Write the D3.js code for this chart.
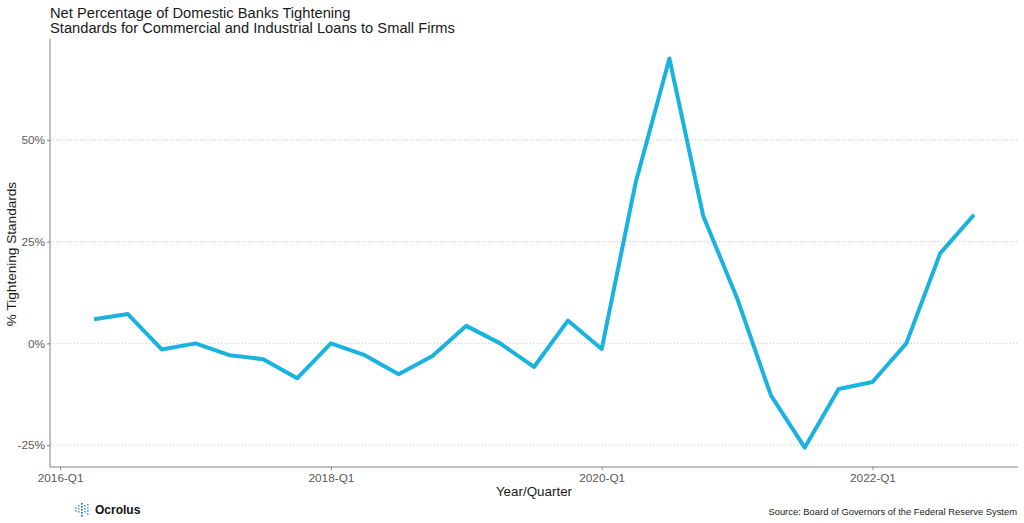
<!DOCTYPE html>
<html>
<head>
<meta charset="utf-8">
<script src="https://cdn.jsdelivr.net/npm/d3@7"></script>
<style>
  body { margin: 0; background: #fff; }
  text { font-family: 'Liberation Sans', Arial, sans-serif; }
</style>
</head>
<body>
<div id="chart"></div>
<script>
// Data
const quarters = [
  '2016-Q2', '2016-Q3', '2016-Q4',
  '2017-Q1', '2017-Q2', '2017-Q3', '2017-Q4',
  '2018-Q1', '2018-Q2', '2018-Q3', '2018-Q4',
  '2019-Q1', '2019-Q2', '2019-Q3', '2019-Q4',
  '2020-Q1', '2020-Q2', '2020-Q3', '2020-Q4',
  '2021-Q1', '2021-Q2', '2021-Q3', '2021-Q4',
  '2022-Q1', '2022-Q2', '2022-Q3', '2022-Q4',
];
const tightening = [
  5.9, 7.2, -1.5,
  0, -2.9, -3.9, -8.6,
  0, -2.9, -7.6, -3.1,
  4.3, 0, -5.8, 5.6,
  -1.4, 39.4, 70, 31.3,
  11.1, -12.8, -25.6, -11.2,
  -9.5, 0, 22.1, 31.6,
];
const xTickLabels = ['2016-Q1', '2018-Q1', '2020-Q1', '2022-Q1'];
const yTickValues = [-25, 0, 25, 50];

// quarter index counted from 2016-Q1
const qIndex = (q) => (+q.slice(0, 4) - 2016) * 4 + (+q.slice(6) - 1);

const dataset = quarters.map((q, i) => ({ q: qIndex(q), v: tightening[i] }));

// Dimensions
const dimensions = {
  width: 1024,
  height: 523,
  left: 50,
  right: 1018,
  top: 39,
  bottom: 467,
};

const svg = d3
  .select('#chart')
  .append('svg')
  .attr('width', dimensions.width)
  .attr('height', dimensions.height);

// Scales
const xExtent = d3.extent(dataset, (d) => d.q);
const xPad = (xExtent[1] - xExtent[0]) * 0.05;
const xScale = d3
  .scaleLinear()
  .domain([xExtent[0] - xPad, xExtent[1] + xPad])
  .range([dimensions.left, dimensions.right]);

const yExtent = d3.extent(dataset, (d) => d.v);
const yPad = (yExtent[1] - yExtent[0]) * 0.05;
const yScale = d3
  .scaleLinear()
  .domain([yExtent[0] - yPad, yExtent[1] + yPad])
  .range([dimensions.bottom, dimensions.top]);

// Gridlines
svg
  .append('g')
  .selectAll('line')
  .data(yTickValues)
  .join('line')
  .attr('x1', dimensions.left)
  .attr('x2', dimensions.right)
  .attr('y1', (d) => yScale(d))
  .attr('y2', (d) => yScale(d))
  .attr('stroke', '#c8c8c8')
  .attr('stroke-width', 1)
  .attr('stroke-dasharray', '1,2');

// Axes
const yAxis = d3
  .axisLeft(yScale)
  .tickValues(yTickValues)
  .tickFormat((d) => d + '%')
  .tickSize(3)
  .tickPadding(2);

const yAxisGroup = svg
  .append('g')
  .attr('transform', `translate(${dimensions.left},0)`)
  .call(yAxis);

const xAxis = d3
  .axisBottom(xScale)
  .tickValues(xTickLabels.map(qIndex))
  .tickFormat((d, i) => xTickLabels[i])
  .tickSize(3)
  .tickPadding(4);

const xAxisGroup = svg
  .append('g')
  .attr('transform', `translate(0,${dimensions.bottom})`)
  .call(xAxis);

[yAxisGroup, xAxisGroup].forEach((g) => {
  g.select('.domain').attr('stroke', '#808080').attr('stroke-width', 1);
  g.selectAll('.tick line').attr('stroke', '#808080');
  g.selectAll('.tick text')
    .attr('fill', '#595959')
    .style('font-size', '11.8px')
    .style('font-family', "'Liberation Sans', Arial, sans-serif");
});
// ggplot-style panel: axis lines only, no end caps
yAxisGroup.select('.domain').attr('d', `M0,${dimensions.top}V${dimensions.bottom}`);
xAxisGroup.select('.domain').attr('d', `M${dimensions.left},0H${dimensions.right}`);

// Line
const line = d3
  .line()
  .x((d) => xScale(d.q))
  .y((d) => yScale(d.v));

svg
  .append('path')
  .datum(dataset)
  .attr('d', line)
  .attr('fill', 'none')
  .attr('stroke', '#1ab3e0')
  .attr('stroke-width', 4)
  .attr('stroke-linejoin', 'round');

// Titles
const title = svg
  .append('text')
  .attr('x', 50)
  .attr('y', 17.5)
  .attr('fill', '#1a1a1a')
  .style('font-size', '14.7px');
title.append('tspan').attr('x', 50).text('Net Percentage of Domestic Banks Tightening');
title
  .append('tspan')
  .attr('x', 50)
  .attr('dy', 15)
  .text('Standards for Commercial and Industrial Loans to Small Firms');

svg
  .append('text')
  .attr('x', (dimensions.left + dimensions.right) / 2)
  .attr('y', 496)
  .attr('text-anchor', 'middle')
  .attr('fill', '#1a1a1a')
  .style('font-size', '13.4px')
  .text('Year/Quarter');

svg
  .append('text')
  .attr('transform', `translate(16,${(dimensions.top + dimensions.bottom) / 2 + 1}) rotate(-90)`)
  .attr('text-anchor', 'middle')
  .attr('fill', '#1a1a1a')
  .style('font-size', '13.6px')
  .text('% Tightening Standards');

// Caption
svg
  .append('text')
  .attr('x', 1017)
  .attr('y', 515)
  .attr('text-anchor', 'end')
  .attr('fill', '#1a1a1a')
  .style('font-size', '9.4px')
  .text('Source: Board of Governors of the Federal Reserve System');

// Ocrolus logo: small dot grid + wordmark
const logo = svg.append('g').attr('transform', 'translate(75,503)');
const dotCols = [
  [4, 7],
  [2, 5, 8],
  [0, 3, 6, 9, 12],
  [2, 5, 8],
  [1, 4, 7, 10],
];
dotCols.forEach((col, ci) => {
  logo
    .append('g')
    .selectAll('rect')
    .data(col)
    .join('rect')
    .attr('x', ci * 3)
    .attr('y', (d) => d)
    .attr('width', 1.6)
    .attr('height', 1.6)
    .attr('fill', ci === 2 ? '#1565c0' : '#4aa3df');
});
logo
  .append('text')
  .attr('x', 20)
  .attr('y', 11)
  .attr('fill', '#111')
  .style('font-size', '12px')
  .style('font-weight', '600')
  .text('Ocrolus');
</script>
</body>
</html>
